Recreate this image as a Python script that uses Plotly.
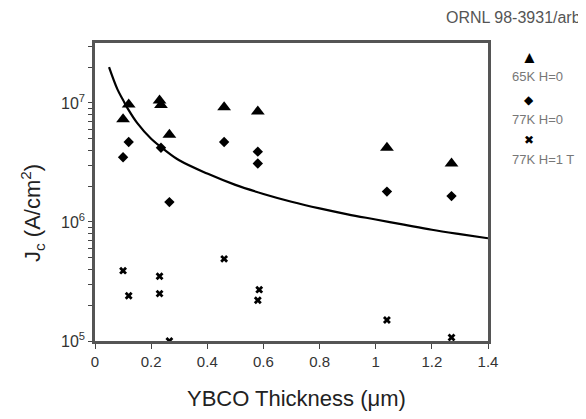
import plotly.graph_objects as go

# 65K, H=0 (triangles)
t65_x = [0.10, 0.12, 0.23, 0.235, 0.265, 0.46, 0.58, 1.04, 1.27]
t65_y = [7.3e6, 9.7e6, 1.05e7, 9.6e6, 5.4e6, 9.2e6, 8.5e6, 4.2e6, 3.1e6]
# 77K, H=0 (diamonds)
d77_x = [0.10, 0.12, 0.235, 0.265, 0.46, 0.58, 0.58, 1.04, 1.27]
d77_y = [3.5e6, 4.7e6, 4.2e6, 1.47e6, 4.7e6, 3.9e6, 3.1e6, 1.8e6, 1.65e6]
# 77K, H=1T (crosses)
c77_x = [0.10, 0.12, 0.23, 0.23, 0.265, 0.46, 0.585, 0.58, 1.04, 1.27]
c77_y = [3.9e5, 2.4e5, 3.5e5, 2.5e5, 1.0e5, 4.9e5, 2.7e5, 2.2e5, 1.5e5, 1.07e5]
# curve
curve_x = [0.05, 0.08, 0.10, 0.12, 0.15, 0.20, 0.25, 0.30, 0.40, 0.50, 0.60, 0.70,
           0.80, 0.90, 1.00, 1.10, 1.20, 1.30, 1.40]
curve_y = [2.0e7, 1.3e7, 1.06e7, 8.7e6, 6.8e6, 5.0e6, 4.0e6, 3.3e6, 2.55e6, 2.05e6,
           1.72e6, 1.48e6, 1.3e6, 1.16e6, 1.05e6, 0.95e6, 0.86e6, 0.79e6, 0.73e6]

x_ticks = [0, 0.2, 0.4, 0.6, 0.8, 1.0, 1.2, 1.4]
x_tick_labels = ["0", "0.2", "0.4", "0.6", "0.8", "1", "1.2", "1.4"]
y_ticks = [1e5, 2e5, 3e5, 4e5, 5e5, 6e5, 7e5, 8e5, 9e5,
           1e6, 2e6, 3e6, 4e6, 5e6, 6e6, 7e6, 8e6, 9e6,
           1e7, 2e7, 3e7]
y_tick_labels = ["10<sup>5</sup>", "", "", "", "", "", "", "", "",
                 "10<sup>6</sup>", "", "", "", "", "", "", "", "",
                 "10<sup>7</sup>", "", ""]
legend_labels = ["65K H=0", "77K H=0", "77K H=1 T"]
x_title = "YBCO Thickness (μm)"
y_title = "J<sub>c</sub> (A/cm<sup>2</sup>)"
corner_note = "ORNL 98-3931/arb"

FONT = "Liberation Sans, Arial, sans-serif"
fig = go.Figure()
fig.add_trace(go.Scatter(x=curve_x, y=curve_y, mode="lines",
                         line=dict(color="black", width=2.2, shape="spline")))
fig.add_trace(go.Scatter(x=t65_x, y=t65_y, mode="markers",
                         marker=dict(symbol="triangle-up", size=12, color="black")))
fig.add_trace(go.Scatter(x=d77_x, y=d77_y, mode="markers",
                         marker=dict(symbol="diamond", size=8, color="black")))
fig.add_trace(go.Scatter(x=c77_x, y=c77_y, mode="markers",
                         marker=dict(symbol="x", size=7, color="black", line=dict(width=0))))

fig.update_layout(
    width=578, height=411, showlegend=False,
    margin=dict(l=87, r=98, t=35, b=78, autoexpand=False),
    paper_bgcolor="white", plot_bgcolor="white",
    font=dict(family=FONT, color="#222"),
    xaxis=dict(range=[0, 1.4], tickvals=x_ticks, ticktext=x_tick_labels, automargin=False,
               ticks="outside", ticklen=5, tickcolor="#444", showgrid=False, zeroline=False,
               showline=True, linecolor="#555", linewidth=2.5, mirror=True,
               tickfont=dict(size=15, color="#333")),
    yaxis=dict(type="log", range=[5, 7.504], tickvals=y_ticks, ticktext=y_tick_labels, automargin=False,
               ticks="outside", ticklen=4, tickcolor="#444", showgrid=False, zeroline=False,
               showline=True, linecolor="#555", linewidth=2.5, mirror=True,
               tickfont=dict(size=16, color="#333")),
)

def px_x(p):
    return (p - 95) / 393

def px_y(p):
    return 1 - (p - 43) / 298

fig.add_annotation(text=x_title, xref="paper", yref="paper", x=px_x(296), y=px_y(398),
                   xanchor="center", yanchor="middle", showarrow=False,
                   font=dict(size=22, color="#222"))
fig.add_annotation(text=y_title, xref="paper", yref="paper", x=px_x(32), y=px_y(213),
                   xanchor="center", yanchor="middle", showarrow=False, textangle=-90,
                   font=dict(size=22, color="#222"))
fig.add_annotation(text=corner_note, xref="paper", yref="paper", x=px_x(583), y=px_y(17),
                   xanchor="right", yanchor="middle", showarrow=False,
                   font=dict(size=16, color="#555"))

syms = ["▲", "◆", "✖"]
sym_sizes = [17, 12, 12]
sym_y = [58, 100, 140]
lab_y = [76, 119, 159]
for s, sz, sy, ly, lab in zip(syms, sym_sizes, sym_y, lab_y, legend_labels):
    fig.add_annotation(text=s, xref="paper", yref="paper", x=px_x(529), y=px_y(sy),
                       xanchor="center", yanchor="middle", showarrow=False,
                       font=dict(size=sz, color="black"))
    fig.add_annotation(text=lab, xref="paper", yref="paper", x=px_x(510), y=px_y(ly),
                       xanchor="left", yanchor="middle", showarrow=False,
                       font=dict(size=13, color="#777"))

fig.write_html("out.html")
